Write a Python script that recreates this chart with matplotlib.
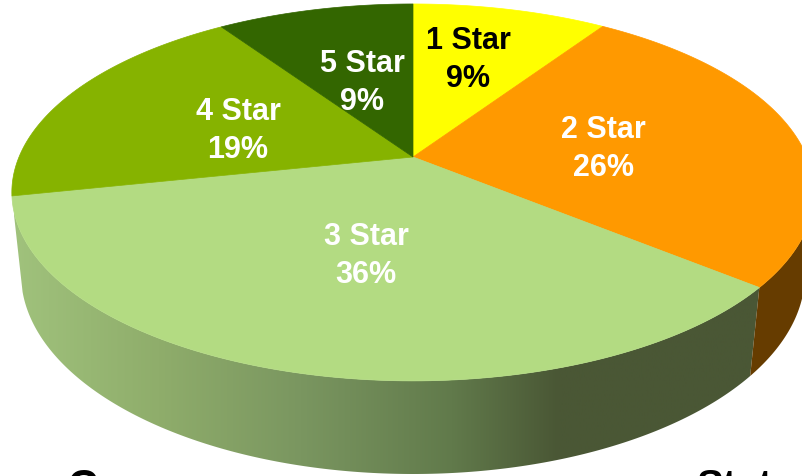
import numpy as np
import matplotlib
matplotlib.use('Agg')
import matplotlib.pyplot as plt
from matplotlib.patches import Polygon
from matplotlib.colors import LinearSegmentedColormap

plt.rcParams['font.family'] = ['Liberation Sans', 'DejaVu Sans']

# data
stars = ['1 Star', '2 Star', '3 Star', '4 Star', '5 Star']
percents = ['9%', '26%', '36%', '19%', '9%']
shares = [9.4, 26.5, 35.8, 18.8, 9.5]
colors = ['#FFFF00', '#FF9900', '#B3DB82', '#86B300', '#336600']
text_colors = ['black', 'white', 'white', 'white', 'white']
label_pos = [(468, 60), (603, 149), (366, 256), (238, 131), (362, 83)]
bottom_texts = ['hern Grp', 'State']

fig = plt.figure(figsize=(8.02, 4.77), dpi=100)
ax = fig.add_axes([0, 0, 1, 1])
ax.set_xlim(0, 802)
ax.set_ylim(477, 0)
ax.axis('off')

# tilted circle, far side looks smaller
cx, cy = 413, 158
A, B, k = 394, 181.8, -0.188


def top_rim(theta):
    u, v = np.sin(theta), np.cos(theta)
    d = 1 - k * v
    return np.column_stack([cx + A * u / d, cy - B * v / d])


def low_rim(t):
    return np.column_stack([413 + 392 * np.cos(t), 275 + 200 * np.sin(t)])


edges = np.cumsum([0] + shares) / sum(shares) * 2 * np.pi

p_left = top_rim(np.array([edges[3]]))[0]
p_right = top_rim(np.array([edges[2]]))[0]
t_end = np.arcsin((377 - 275) / 200)

# side of the pie, green part with gradient
t = np.linspace(np.pi - 0.09, t_end, 200)
green_side = np.vstack([p_left, low_rim(t), p_right,
                        top_rim(np.linspace(edges[2], edges[3], 100))])
grad = LinearSegmentedColormap.from_list('side', [
    (0, '#A0C27C'), (0.19, '#8FAD6B'), (0.38, '#7A9660'),
    (0.58, '#617A4B'), (0.72, '#4A5735'), (1, '#4A5735')])
im = ax.imshow(np.linspace(0, 1, 256)[None, :], cmap=grad, aspect='auto',
               extent=[14, 770, 477, 100], zorder=1)
im.set_clip_path(Polygon(green_side, transform=ax.transData))
ax.set_xlim(0, 802)
ax.set_ylim(477, 0)

# brown part
t2 = np.linspace(t_end, 0, 60)
brown = np.vstack([p_right, low_rim(t2), top_rim(np.linspace(np.pi / 2 + 0.2, edges[2], 60))])
ax.add_patch(Polygon(brown, closed=True, fc='#663C00', ec='none', zorder=1))

# top wedges
for i in range(5):
    arc = top_rim(np.linspace(edges[i], edges[i + 1], 120))
    ax.add_patch(Polygon(np.vstack([[cx, cy], arc]), closed=True, fc=colors[i], ec=colors[i], lw=0.5, zorder=2))

for i in range(5):
    x, y = label_pos[i]
    ax.text(x, y - 19, stars[i], color=text_colors[i], fontsize=22, fontweight='bold', ha='center', va='center', zorder=3)
    ax.text(x, y + 19, percents[i], color=text_colors[i], fontsize=22, fontweight='bold', ha='center', va='center', zorder=3)

ax.text(140, 487, bottom_texts[0], fontsize=29, fontweight='bold', ha='right', va='center', zorder=3)
ax.text(697, 487, bottom_texts[1], fontsize=29, fontweight='bold', ha='left', va='center', zorder=3)

fig.savefig('out.png', dpi=100)
